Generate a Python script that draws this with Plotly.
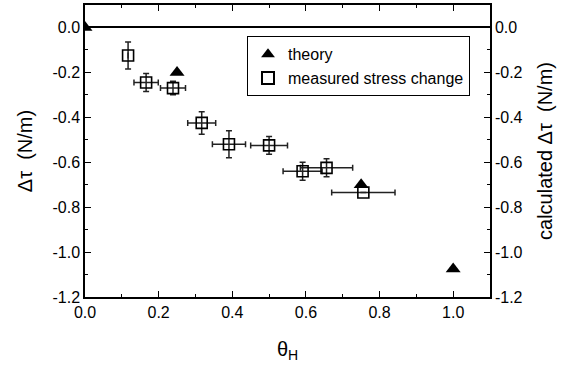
import plotly.graph_objects as go

theory_x = [0.0, 0.25, 0.75, 1.0]
theory_y = [0.0, -0.20, -0.70, -1.075]

meas_x = [0.117, 0.166, 0.239, 0.317, 0.391, 0.500, 0.591, 0.656, 0.756]
meas_y = [-0.125, -0.245, -0.27, -0.425, -0.52, -0.525, -0.64, -0.625, -0.735]
meas_xerr = [0.0, 0.033, 0.034, 0.038, 0.045, 0.05, 0.053, 0.071, 0.086]
meas_yerr = [0.06, 0.04, 0.03, 0.05, 0.06, 0.04, 0.04, 0.04, 0.0]

y_ticks = [0.0, -0.2, -0.4, -0.6, -0.8, -1.0, -1.2]
y_text = ["0.0", "-0.2", "-0.4", "-0.6", "-0.8", "-1.0", "-1.2"]
x_ticks = [0.0, 0.2, 0.4, 0.6, 0.8, 1.0]
x_text = ["0.0", "0.2", "0.4", "0.6", "0.8", "1.0"]

font = "Liberation Sans, Arial, sans-serif"

fig = go.Figure()
fig.add_trace(go.Scatter(
    x=theory_x, y=theory_y, mode="markers", name="theory",
    marker=dict(symbol="triangle-up", size=13, color="black"),
    cliponaxis=True,
))
fig.add_trace(go.Scatter(
    x=meas_x, y=meas_y, mode="markers", name="measured stress change",
    marker=dict(symbol="square-open", size=11, color="black", line=dict(width=1.6)),
    error_x=dict(type="data", array=meas_xerr, color="#222", thickness=1.5, width=3),
    error_y=dict(type="data", array=meas_yerr, color="#222", thickness=1.5, width=3),
))
# invisible trace to show right axis
fig.add_trace(go.Scatter(x=[0.5], y=[-0.5], yaxis="y2", mode="markers",
                         marker=dict(opacity=0), showlegend=False, hoverinfo="skip"))

axis_common = dict(
    showline=True, linecolor="black", linewidth=1.5,
    ticks="inside", ticklen=6, tickwidth=1.2, tickcolor="black",
    showgrid=False,
    tickfont=dict(family=font, size=16, color="black"),
)

fig.update_layout(
    width=567, height=375,
    margin=dict(l=85, r=77, t=3, b=78),
    plot_bgcolor="white", paper_bgcolor="white",
    font=dict(family=font, color="black"),
    xaxis=dict(
        range=[0, 1.1], tickvals=x_ticks, ticktext=x_text, mirror="ticks",
        minor=dict(dtick=0.1, ticks="inside", ticklen=3, tickcolor="black"),
        zeroline=False,
        title=dict(text="θ<sub>H</sub>", font=dict(family=font, size=20), standoff=22),
        **axis_common,
    ),
    yaxis=dict(
        range=[-1.2, 0.1], tickvals=y_ticks, ticktext=y_text,
        minor=dict(dtick=0.1, ticks="inside", ticklen=3, tickcolor="black"),
        zeroline=True, zerolinecolor="black", zerolinewidth=1.5,
        title=dict(text="Δτ  (N/m)", font=dict(family=font, size=20), standoff=14),
        **axis_common,
    ),
    yaxis2=dict(
        range=[-1.2, 0.1], tickvals=y_ticks, ticktext=y_text,
        overlaying="y", side="right",
        minor=dict(dtick=0.1, ticks="inside", ticklen=3, tickcolor="black"),
        zeroline=False,
        title=dict(text="calculated Δτ  (N/m)", font=dict(family=font, size=20), standoff=16),
        **axis_common,
    ),
    legend=dict(
        x=0.40, y=0.893, xanchor="left", yanchor="top",
        bordercolor="black", borderwidth=1, bgcolor="white",
        font=dict(family=font, size=16, color="black"),
        itemsizing="constant", tracegroupgap=0,
    ),
    showlegend=True,
)

fig.write_html("out.html")
